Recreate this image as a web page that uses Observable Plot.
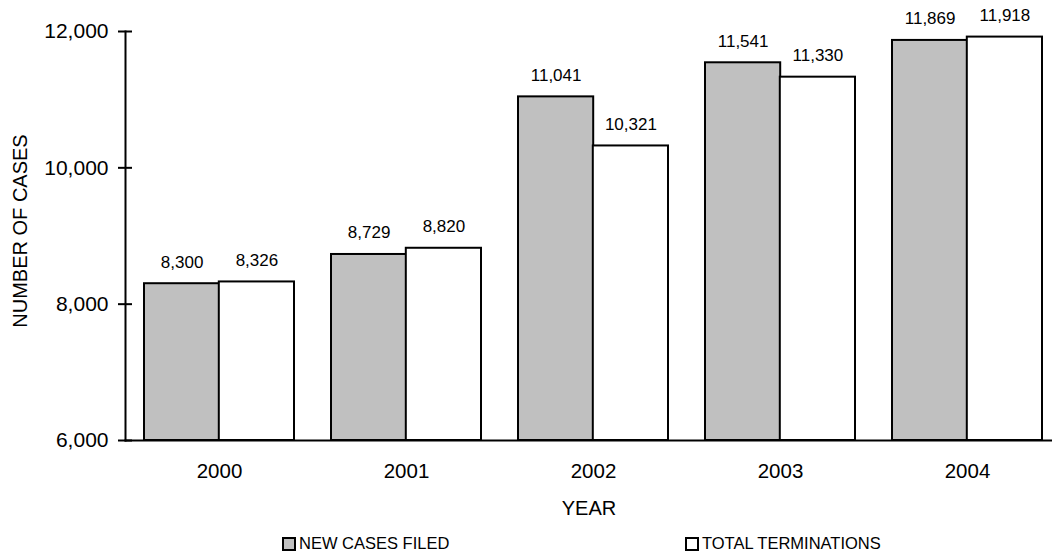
<!DOCTYPE html>
<html>
<head>
<meta charset="utf-8">
<script src="https://cdn.jsdelivr.net/npm/d3@7"></script>
<script src="https://cdn.jsdelivr.net/npm/@observablehq/plot@0.6"></script>
<style>
  html, body { margin: 0; padding: 0; background: #fff; overflow: hidden; }
  body { font-family: "Liberation Sans", Arial, sans-serif; color: #000; }
  #legend { position: relative; width: 1052px; height: 26px; font-size: 16.5px; }
  .item { position: absolute; top: 4px; display: flex; align-items: center; white-space: nowrap; }
  .sw { width: 10px; height: 10px; border: 2px solid #000; margin-right: 3px; box-sizing: content-box; }
</style>
</head>
<body>
<div id="chart"></div>
<div id="legend"></div>
<script>
const years = ["2000", "2001", "2002", "2003", "2004"];
const newCasesFiled = [8300, 8729, 11041, 11541, 11869];
const totalTerminations = [8326, 8820, 10321, 11330, 11918];
const yTicks = [6000, 8000, 10000, 12000];
const seriesNames = ["NEW CASES FILED", "TOTAL TERMINATIONS"];
const seriesFills = ["#c0c0c0", "#ffffff"];

const yMin = yTicks[0];
const yMax = yTicks[yTicks.length - 1];
const fmt = d3.format(",");

const rowsNew = years.map((y, i) => ({year: y, value: newCasesFiled[i]}));
const rowsTerm = years.map((y, i) => ({year: y, value: totalTerminations[i]}));

const width = 1052, height = 530;
const marginLeft = 125, marginTop = 31, marginBottom = 90;
const xRange = [125, 1060];
const step = (xRange[1] - xRange[0]) / (years.length - 0.2 + 0.2);
const bw = step * 0.8;
const half = bw / 2;

const chart = Plot.plot({
  width, height,
  marginLeft, marginRight: 0, marginTop, marginBottom,
  style: {fontFamily: "'Liberation Sans', Arial, sans-serif", color: "#000", background: "#fff"},
  x: {domain: years, range: xRange, paddingInner: 0.2, paddingOuter: 0.1},
  y: {domain: [yMin, yMax]},
  marks: [
    Plot.barY(rowsNew, {x: "year", y1: () => yMin, y2: "value", fill: seriesFills[0], stroke: "#000", strokeWidth: 2, insetRight: half}),
    Plot.barY(rowsTerm, {x: "year", y1: () => yMin, y2: "value", fill: seriesFills[1], stroke: "#000", strokeWidth: 2, insetLeft: half}),
    Plot.text(rowsNew, {x: "year", y: "value", text: d => fmt(d.value), dx: -half / 2, dy: -16, lineAnchor: "bottom", fontSize: 17, fill: "#000"}),
    Plot.text(rowsTerm, {x: "year", y: "value", text: d => fmt(d.value), dx: half / 2, dy: -16, lineAnchor: "bottom", fontSize: 17, fill: "#000"}),
    Plot.frame({anchor: "bottom", stroke: "#000", strokeWidth: 2}),
    Plot.frame({anchor: "left", stroke: "#000", strokeWidth: 2}),
    Plot.axisY({ticks: yTicks, tickFormat: fmt, tickSize: 14, dx: 7, tickPadding: 10, strokeWidth: 2, fontSize: 21, label: null}),
    Plot.axisX({tickSize: 0, tickPadding: 23, fontSize: 20.5, label: null}),
    Plot.text(["YEAR"], {frameAnchor: "bottom", text: d => d, lineAnchor: "top", dy: 60.5, fontSize: 20, fill: "#000"}),
    Plot.text(["NUMBER OF CASES"], {frameAnchor: "left", text: d => d, textAnchor: "middle", lineAnchor: "middle", rotate: -90, dx: -104.5, dy: -5, fontSize: 20, fill: "#000"})
  ]
});
document.getElementById("chart").appendChild(chart);

const legend = document.getElementById("legend");
const legendLeft = [282, 685];
seriesNames.forEach((name, i) => {
  const item = document.createElement("div");
  item.className = "item";
  item.style.left = legendLeft[i] + "px";
  const sw = document.createElement("span");
  sw.className = "sw";
  sw.style.background = seriesFills[i];
  const t = document.createElement("span");
  t.textContent = name;
  item.appendChild(sw);
  item.appendChild(t);
  legend.appendChild(item);
});
</script>
</body>
</html>
